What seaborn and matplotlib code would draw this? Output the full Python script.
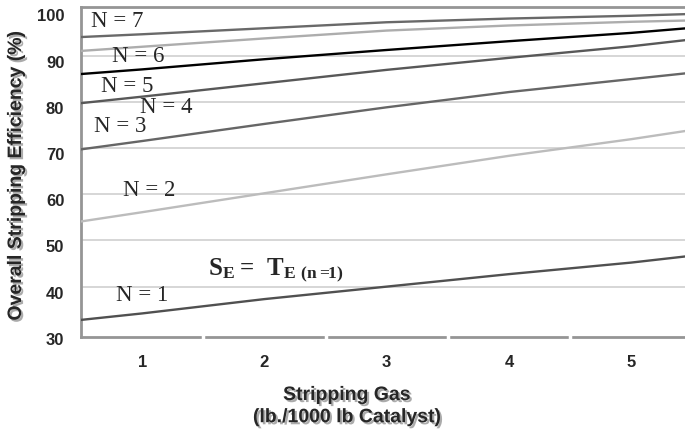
import pandas as pd
import matplotlib
matplotlib.use('Agg')
import matplotlib.pyplot as plt
import matplotlib.patheffects as pe
from matplotlib.transforms import ScaledTranslation
import seaborn as sns

# %%
# values
gas = [0.5, 1, 2, 3, 4, 5, 5.5]
eff_n1 = [32.8, 34.2, 37.3, 40.0, 42.7, 45.2, 46.7]
eff_n2 = [54.1, 56.1, 60.2, 64.3, 68.3, 71.9, 73.9]
eff_n3 = [69.7, 71.5, 75.2, 78.8, 82.1, 84.9, 86.3]
eff_n4 = [79.7, 81.1, 84.0, 86.9, 89.5, 92.0, 93.5]
eff_n5 = [86.0, 87.0, 89.2, 91.2, 93.1, 94.9, 96.0]
eff_n6 = [91.0, 91.9, 93.7, 95.4, 96.5, 97.3, 97.6]
eff_n7 = [94.0, 94.6, 95.9, 97.2, 98.0, 98.6, 99.0]
stages = ['N = 1', 'N = 2', 'N = 3', 'N = 4', 'N = 5', 'N = 6', 'N = 7']
x_ticks = [1, 2, 3, 4, 5]
y_ticks = [30, 40, 50, 60, 70, 80, 90, 100]

# %%
series = [eff_n1, eff_n2, eff_n3, eff_n4, eff_n5, eff_n6, eff_n7]
frames = [pd.DataFrame({'gas': gas, 'eff': s, 'stage': n}) for s, n in zip(series, stages)]
df = pd.concat(frames, ignore_index=True)

colors = {'N = 1': '#505050', 'N = 2': '#bcbcbc', 'N = 3': '#666666', 'N = 4': '#585858',
          'N = 5': '#000000', 'N = 6': '#adadad', 'N = 7': '#696969'}
# label positions (data coords) for the N = .. annotations
label_pos = {'N = 1': (1.0, 38.0), 'N = 2': (1.06, 60.8), 'N = 3': (0.82, 74.7),
             'N = 4': (1.2, 78.8), 'N = 5': (0.875, 83.4), 'N = 6': (0.965, 89.7),
             'N = 7': (0.795, 97.3)}

# %%
sns.set_style('white')
plt.rcParams['mathtext.fontset'] = 'custom'
plt.rcParams['mathtext.rm'] = 'Liberation Serif'
plt.rcParams['mathtext.bf'] = 'Liberation Serif:bold'

fig = plt.figure(figsize=(6.85, 4.37), dpi=100)
ax = fig.add_axes([81 / 685, 100 / 437, 604 / 685, 330 / 437])

sns.lineplot(data=df, x='gas', y='eff', hue='stage', palette=colors, linewidth=1.7,
             legend=False, ax=ax, zorder=3)

ax.set_xlim(0.5, 5.44)
ax.set_ylim(29.1, 100.5)
ax.set_xticks(x_ticks)
ax.set_yticks(y_ticks)
ax.yaxis.grid(True, color='#cccccc', linewidth=1.1)
ax.set_axisbelow(True)
gl = ax.yaxis.get_gridlines()
gl[0].set_visible(False)
gl[-1].set_visible(False)

for side in ['left', 'bottom', 'top']:
    ax.spines[side].set_color('#959595')
    ax.spines[side].set_linewidth(2)
ax.spines['right'].set_visible(False)
ax.tick_params(axis='both', length=0, labelsize=12)
ax.tick_params(axis='x', pad=13)
ax.tick_params(axis='y', pad=12)
for lab in ax.get_xticklabels() + ax.get_yticklabels():
    lab.set_fontweight('bold')
    lab.set_fontfamily('Liberation Sans')
for lab in ax.get_yticklabels():
    lab.set_transform(lab.get_transform() + ScaledTranslation(0, -6 / 100, fig.dpi_scale_trans))

# gaps in the bottom axis between categories
for b in [1.5, 2.5, 3.5, 4.5]:
    ax.plot([b, b], [-0.012, 0.012], color='white', linewidth=2.5,
            transform=ax.get_xaxis_transform(), clip_on=False, zorder=10)

shadow = [pe.SimplePatchShadow(offset=(1.5, -1.5), shadow_rgbFace='#888888', alpha=0.7), pe.Normal()]
ax.set_ylabel('Overall Stripping Efficiency (%)', fontsize=14, fontweight='bold',
              family='Liberation Sans', path_effects=shadow)
ax.yaxis.set_label_coords(-56 / 604, 0.49)
ax.set_xlabel('Stripping Gas\n(lb./1000 lb Catalyst)', fontsize=14, fontweight='bold',
              family='Liberation Sans', linespacing=1.4, path_effects=shadow)
ax.xaxis.set_label_coords((347 - 81) / 604, -50 / 330)

for n in stages:
    x, y = label_pos[n]
    ax.text(x, y, n, fontsize=16.5, family='Liberation Serif', ha='center', va='center', zorder=5)
ax.text(1.536, 42.5, r'$\mathbf{S_{E}=\ T_{E\ (n=\!\!1)}}$', fontsize=18, ha='left',
        va='baseline', zorder=5)

fig.savefig('out.png', dpi=100)
